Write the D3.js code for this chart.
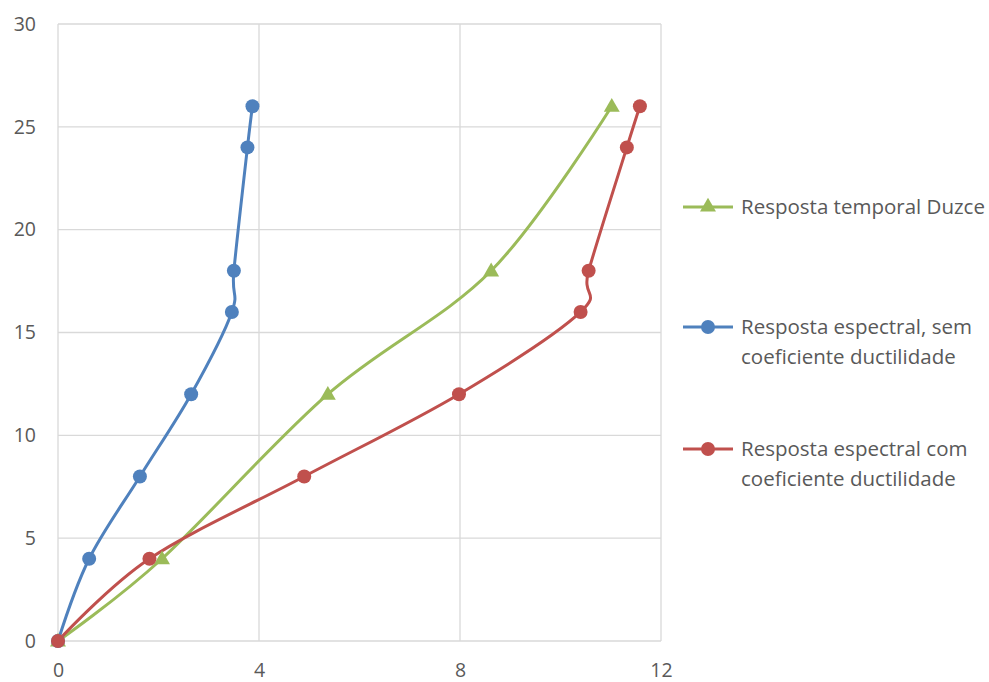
<!DOCTYPE html>
<html><head><meta charset="utf-8">
<script src="https://cdn.jsdelivr.net/npm/d3@7"></script>
<style>body{margin:0;background:#fff;}svg{display:block;}</style>
</head><body>
<svg id="c" width="989" height="682"></svg>
<script>
const xTicks = [0, 4, 8, 12];
const yTicks = [0, 5, 10, 15, 20, 25, 30];
const greenX = [0, 2.07, 5.37, 8.62, 11.02];
const greenY = [0, 4, 12, 18, 26];
const blueX = [0, 0.62, 1.63, 2.65, 3.46, 3.50, 3.77, 3.87];
const blueY = [0, 4, 8, 12, 16, 18, 24, 26];
const redX = [0, 1.82, 4.90, 7.98, 10.40, 10.56, 11.32, 11.58];
const redY = [0, 4, 8, 12, 16, 18, 24, 26];
const seriesNames = ["Resposta temporal Duzce", "Resposta espectral, sem|coeficiente ductilidade", "Resposta espectral com|coeficiente ductilidade"];
const colors = ["#9bbb59", "#4f81bd", "#c0504d"];

const svg = d3.select("#c");
const x = d3.scaleLinear().domain([0, 12]).range([58, 661]);
const y = d3.scaleLinear().domain([0, 30]).range([641, 24]);
const font = "'Open Sans', 'Liberation Sans', sans-serif";

// gridlines
svg.append("g").selectAll("line").data(yTicks).join("line")
  .attr("x1", x(0)).attr("x2", x(12)).attr("y1", d => y(d)).attr("y2", d => y(d))
  .attr("stroke", "#d9d9d9").attr("stroke-width", 1.3);
svg.append("g").selectAll("line").data(xTicks).join("line")
  .attr("y1", y(0)).attr("y2", y(30)).attr("x1", d => x(d)).attr("x2", d => x(d))
  .attr("stroke", "#d9d9d9").attr("stroke-width", 1.3);

// axes labels
const yAxis = d3.axisLeft(y).tickValues(yTicks).tickSize(0).tickPadding(22);
const gy = svg.append("g").attr("transform", `translate(${x(0)},0)`).call(yAxis);
gy.select(".domain").remove();
gy.selectAll("text").attr("font-family", font).attr("font-size", 19.5).attr("fill", "#595959");
const xAxis = d3.axisBottom(x).tickValues(xTicks).tickSize(0).tickPadding(22);
const gx = svg.append("g").attr("transform", `translate(0,${y(0)})`).call(xAxis);
gx.select(".domain").remove();
gx.selectAll("text").attr("font-family", font).attr("font-size", 19.5).attr("fill", "#595959");

const series = [
  {xs: greenX, ys: greenY, c: colors[0], m: "tri"},
  {xs: blueX, ys: blueY, c: colors[1], m: "circ"},
  {xs: redX, ys: redY, c: colors[2], m: "circ"}
];
const line = d3.line().x(d => x(d[0])).y(d => y(d[1])).curve(d3.curveCatmullRom.alpha(0));
const tri = d3.symbol().type(d3.symbolTriangle).size(110);

series.forEach(s => {
  const pts = s.xs.map((v, i) => [v, s.ys[i]]);
  svg.append("path").datum(pts).attr("d", line).attr("fill", "none")
    .attr("stroke", s.c).attr("stroke-width", 3).attr("stroke-linejoin", "round").attr("stroke-linecap", "round");
});
series.forEach(s => {
  const pts = s.xs.map((v, i) => [v, s.ys[i]]);
  if (s.m === "circ") {
    svg.append("g").selectAll("circle").data(pts).join("circle")
      .attr("cx", d => x(d[0])).attr("cy", d => y(d[1])).attr("r", 7).attr("fill", s.c);
  } else {
    svg.append("g").selectAll("path").data(pts).join("path")
      .attr("d", tri).attr("transform", d => `translate(${x(d[0])},${y(d[1]) + 1})`).attr("fill", s.c);
  }
});

// legend
const legY = [207, 327, 449];
seriesNames.forEach((name, i) => {
  const g = svg.append("g").attr("transform", `translate(683,${legY[i]})`);
  g.append("line").attr("x1", 0).attr("x2", 50).attr("y1", 0).attr("y2", 0)
    .attr("stroke", colors[i]).attr("stroke-width", 3);
  if (i === 0) g.append("path").attr("d", tri).attr("transform", "translate(25,0)").attr("fill", colors[i]);
  else g.append("circle").attr("cx", 25).attr("cy", 0).attr("r", 7).attr("fill", colors[i]);
  name.split("|").forEach((t, j) => {
    g.append("text").attr("x", 58).attr("y", j * 30).attr("dy", "0.35em")
      .attr("font-family", font).attr("font-size", 20.5).attr("fill", "#595959").text(t);
  });
});
</script>
</body></html>
